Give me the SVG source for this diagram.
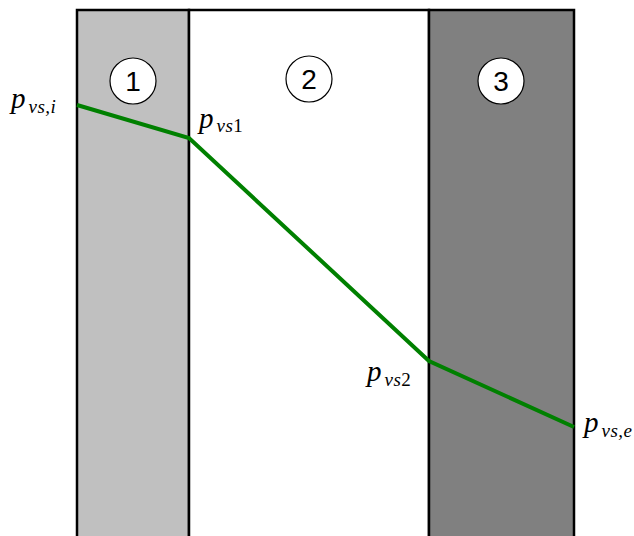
<svg xmlns="http://www.w3.org/2000/svg" width="634" height="536" viewBox="0 0 634 536">
<style>
.lay{stroke:#000;stroke-width:2.5}
.c{fill:#fff;stroke:#000;stroke-width:1.2}
.n{font-family:"Liberation Sans",Arial,sans-serif;font-size:28px;text-anchor:middle;fill:#000}
.p{font-family:"Liberation Serif","Times New Roman",serif;font-style:italic;font-size:29px;fill:#000}
.s{font-size:19px;letter-spacing:0.5px}
.u{font-style:normal}
</style>
<rect width="634" height="536" fill="#fff"/>
<g id="layer1"><rect class="lay" x="77" y="10" width="112" height="540" fill="#c0c0c0"/></g>
<g id="layer2"><rect class="lay" x="189" y="10" width="240" height="540" fill="#fff"/></g>
<g id="layer3"><rect class="lay" x="429" y="10" width="145" height="540" fill="#808080"/></g>
<g id="circle1"><circle class="c" cx="133" cy="81" r="23"/><text class="n" x="133" y="91">1</text></g>
<g id="circle2"><circle class="c" cx="309" cy="79" r="23"/><text class="n" x="309" y="89">2</text></g>
<g id="circle3"><circle class="c" cx="501" cy="81" r="23"/><text class="n" x="501" y="91">3</text></g>
<g id="connectors"><polyline points="77,105 189,138 429,361 574,427" fill="none" stroke="#008000" stroke-width="4"/></g>
<g id="labels">
<text class="p" x="11" y="108">p<tspan class="s" dx="3" dy="5">vs,i</tspan></text>
<text class="p" x="199" y="128">p<tspan class="s" dx="3" dy="4">vs<tspan class="u">1</tspan></tspan></text>
<text class="p" x="367" y="381">p<tspan class="s" dx="3" dy="5">vs<tspan class="u">2</tspan></tspan></text>
<text class="p" x="584" y="432">p<tspan class="s" dx="3" dy="5">vs,e</tspan></text>
</g>
</svg>
